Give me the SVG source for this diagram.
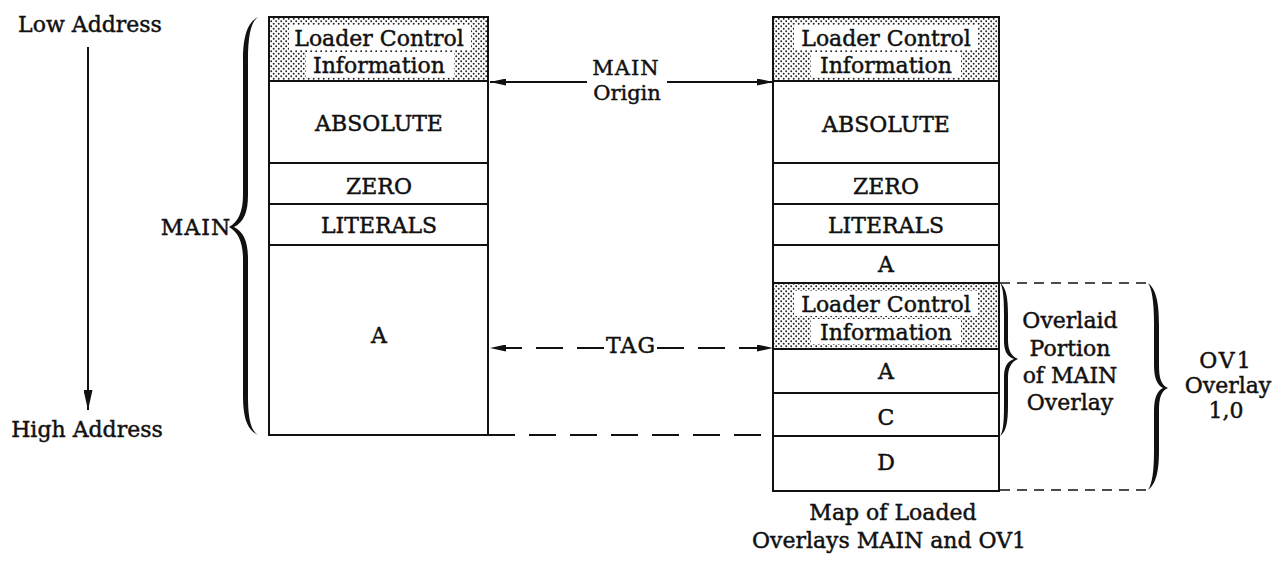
<svg xmlns="http://www.w3.org/2000/svg" width="1288" height="561" viewBox="0 0 1288 561">
<style>
text{font-family:"DejaVu Serif","Liberation Serif",serif;font-size:22px;fill:#111;stroke:#111;stroke-width:0.45;text-anchor:middle}
.box{fill:#fff;stroke:#111;stroke-width:2}
.ln{stroke:#111;stroke-width:2;fill:none}
.dash{stroke:#111;stroke-width:2;fill:none;stroke-dasharray:27 14}
.dbox{stroke:#111;stroke-width:1.6;fill:none;stroke-dasharray:10 7}
.stip{fill:url(#dots);stroke:#111;stroke-width:2}
.wb{fill:#fff}
.brace{fill:#111}
.sm{font-size:21px}
</style>
<defs>
<pattern id="dots" width="5" height="5" patternUnits="userSpaceOnUse">
<rect width="5" height="5" fill="#fff"/>
<circle cx="1.2" cy="1.2" r="0.95" fill="#222"/>
<circle cx="3.7" cy="3.7" r="0.95" fill="#222"/>
</pattern>
<marker id="ah" viewBox="0 0 16 7" refX="16" refY="3.5" markerWidth="16" markerHeight="7" markerUnits="userSpaceOnUse" orient="auto">
<path d="M0,0 L16,3.5 L0,7 Z" fill="#111"/>
</marker>
<marker id="ahv" viewBox="0 0 20 9" refX="20" refY="4.5" markerWidth="20" markerHeight="9" markerUnits="userSpaceOnUse" orient="auto">
<path d="M0,0 L20,4.5 L0,9 Z" fill="#111"/>
</marker>
</defs>

<g id="address-axis">
<text x="90" y="32">Low Address</text>
<line class="ln" x1="88" y1="47" x2="88" y2="410" marker-end="url(#ahv)"/>
<text x="87" y="437">High Address</text>
</g>

<g id="main-brace">
<path class="brace" d="M258,17 C248,22 243,35 243,60 L243,195 C243,212 238,222 229,227 C238,232 243,242 243,259 L243,395 C243,420 248,430 258,435 C251,430 248,420 248,395 L248,259 C248,242 244,232 234,227 C244,222 248,212 248,195 L248,60 C248,35 251,22 258,17 Z"/>
<text x="196" y="235" letter-spacing="1">MAIN</text>
</g>

<g id="left-column">
<rect class="stip" x="269" y="17" width="219" height="64"/>
<rect class="wb" x="289" y="25" width="182" height="25"/>
<rect class="wb" x="306" y="52" width="148" height="25"/>
<text x="379" y="46">Loader Control</text>
<text x="379" y="73">Information</text>
<rect class="box" x="269" y="81" width="219" height="82"/>
<text x="379" y="131">ABSOLUTE</text>
<rect class="box" x="269" y="163" width="219" height="41"/>
<text x="379" y="194">ZERO</text>
<rect class="box" x="269" y="204" width="219" height="41"/>
<text x="379" y="233">LITERALS</text>
<rect class="box" x="269" y="245" width="219" height="190"/>
<text x="379" y="343">A</text>
</g>

<g id="right-column">
<rect class="stip" x="773" y="17" width="226" height="64"/>
<rect class="wb" x="794" y="25" width="184" height="25"/>
<rect class="wb" x="811" y="52" width="150" height="25"/>
<text x="886" y="46">Loader Control</text>
<text x="886" y="73">Information</text>
<rect class="box" x="773" y="81" width="226" height="82"/>
<text x="886" y="132">ABSOLUTE</text>
<rect class="box" x="773" y="163" width="226" height="41"/>
<text x="886" y="194">ZERO</text>
<rect class="box" x="773" y="204" width="226" height="41"/>
<text x="886" y="233">LITERALS</text>
<rect class="box" x="773" y="245" width="226" height="38"/>
<text x="886" y="272">A</text>
<rect class="stip" x="773" y="283" width="226" height="66"/>
<rect class="wb" x="794" y="291" width="184" height="25"/>
<rect class="wb" x="811" y="319" width="150" height="25"/>
<text x="886" y="312">Loader Control</text>
<text x="886" y="340">Information</text>
<rect class="box" x="773" y="349" width="226" height="44"/>
<text x="886" y="379">A</text>
<rect class="box" x="773" y="393" width="226" height="43"/>
<text x="886" y="425">C</text>
<rect class="box" x="773" y="436" width="226" height="55"/>
<text x="886" y="470">D</text>
</g>

<g id="overlaid-brace">
<path class="brace" d="M1000,283 C1006,287 1008,297 1008,315 L1008,340 C1008,350 1011,356 1018,359 C1011,362 1008,368 1008,378 L1008,405 C1008,423 1006,432 1000,436 C1003,432 1004,423 1004,405 L1004,378 C1004,368 1006,362 1014,359 C1006,356 1004,350 1004,340 L1004,315 C1004,297 1003,287 1000,283 Z"/>
<text x="1070" y="328">Overlaid</text>
<text x="1070" y="356">Portion</text>
<text x="1070" y="383">of MAIN</text>
<text x="1070" y="410">Overlay</text>
</g>

<g id="ov1-brace">
<path class="brace" d="M1148,283 C1156,289 1159,302 1159,325 L1159,365 C1159,378 1161,385 1168,388 C1161,391 1159,398 1159,411 L1159,450 C1159,472 1156,484 1148,490 C1152,484 1154,472 1154,450 L1154,411 C1154,398 1157,391 1163,388 C1157,385 1154,378 1154,365 L1154,325 C1154,302 1152,289 1148,283 Z"/>
<text x="1226" y="368" letter-spacing="2">OV1</text>
<text x="1228" y="393">Overlay</text>
<text x="1226" y="418">1,0</text>
</g>

<g id="connectors">
<line class="ln" x1="587" y1="82" x2="490" y2="82" marker-end="url(#ah)"/>
<line class="ln" x1="667" y1="82" x2="773" y2="82" marker-end="url(#ah)"/>
<line class="dash" x1="604" y1="348" x2="490" y2="348" marker-end="url(#ah)"/>
<line class="dash" x1="657" y1="348" x2="773" y2="348" marker-end="url(#ah)"/>
<line class="dash" x1="488" y1="435" x2="773" y2="435" stroke-dasharray="27 13"/>
<line class="dbox" x1="1000" y1="283" x2="1148" y2="283"/>
<line class="dbox" x1="1000" y1="490" x2="1148" y2="490"/>
</g>

<g id="labels">
<text class="sm" x="626" y="75" letter-spacing="1">MAIN</text>
<text class="sm" x="627" y="100">Origin</text>
<text x="631" y="353" letter-spacing="1">TAG</text>
<text x="893" y="520">Map of Loaded</text>
<text x="889" y="548">Overlays MAIN and OV1</text>
</g>
</svg>
